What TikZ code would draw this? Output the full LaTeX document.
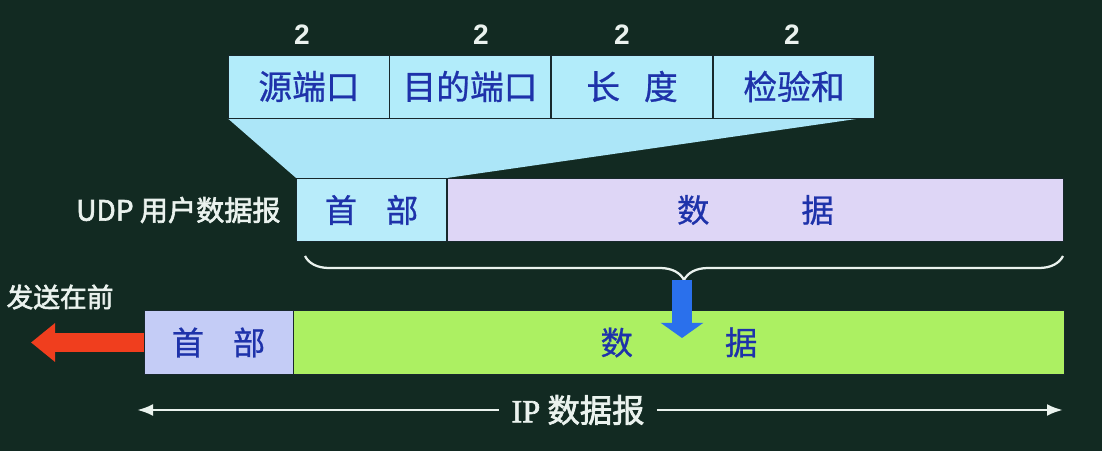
\documentclass[tikz,border=0pt]{standalone}
\usepackage{fontspec}
\newfontfamily\cjk{Noto Sans CJK SC}[FakeBold=0.8]
\newfontfamily\cjkbold{Noto Sans CJK SC}[FakeBold=2.2]
\newfontfamily\numfont{Liberation Sans}
\newfontfamily\ipfont{Liberation Serif}[FakeBold=2]
\definecolor{bgdark}{RGB}{18,42,34}
\definecolor{fieldcyan}{RGB}{178,236,250}
\definecolor{trapcyan}{RGB}{172,230,248}
\definecolor{hdrcyan}{RGB}{184,236,250}
\definecolor{datalilac}{RGB}{222,214,246}
\definecolor{hdrlilac}{RGB}{196,204,246}
\definecolor{datagreen}{RGB}{172,240,98}
\definecolor{textblue}{RGB}{30,50,170}
\definecolor{cellline}{RGB}{24,40,44}
\definecolor{sendred}{RGB}{240,62,30}
\definecolor{downblue}{RGB}{42,112,236}
\definecolor{lighttext}{RGB}{234,242,238}
\usetikzlibrary{arrows.meta,positioning,decorations.pathreplacing}
\pgfdeclarelayer{back}
\pgfsetlayers{back,main}

\begin{document}
\begin{tikzpicture}[x=0.025cm, y=-0.025cm,
    every node/.style={align=center, inner sep=0pt},
    cell/.style={draw=cellline, line width=0.6pt, text=textblue,
                 minimum height=1.58cm, font=\cjk\fontsize{23}{26}\selectfont},
    numlbl/.style={text=lighttext, font=\numfont\bfseries\fontsize{20}{24}\selectfont},
    sidelbl/.style={text=lighttext, font=\cjkbold\fontsize{20}{24}\selectfont}]
  \def\fw{4.04cm}
  \foreach \i/\x/\nx/\lbl in {
    1/309/302/源端口,
    2/470/481/目的端口,
    3/632/622/长\hspace{0.6cm}度,
    4/794/792/检验和}
  {
    \node[cell, fill=fieldcyan, minimum width=\fw, minimum height=1.575cm,
          font=\cjk\fontsize{24}{28}\selectfont] (f\i) at (\x,86.5) {\lbl};
    \node[numlbl] (n\i) at (\nx,35) {2};
  }
  \node[cell, fill=hdrcyan, minimum width=3.75cm] (uh) at (371.5,210) {首\hspace{0.72cm}部};
  \node[cell, fill=datalilac, minimum width=15.4cm, anchor=west] (ud) at (uh.east) {数\hspace{2.3cm}据};
  \node[sidelbl, left=0.38cm of uh] (ulbl) {UDP 用户数据报};
  \node[cell, fill=hdrlilac, minimum width=3.725cm] (ih) at (218.5,342.5) {首\hspace{0.72cm}部};
  \node[cell, fill=datagreen, minimum width=19.25cm, anchor=west] (id) at (ih.east) {数\hspace{2.3cm}据};
  \node[sidelbl, font=\cjkbold\fontsize{19}{22}\selectfont] (send) at (60,297) {发送在前};
  \node[sidelbl, inner xsep=0.3cm, font=\cjkbold\fontsize{23}{26}\selectfont] (ipl) at (578,410) {{\ipfont IP} 数据报};
  \coordinate (bl) at (305,256);
  \coordinate (br) at (1063,256);
  \coordinate (btip) at (682,280);
  \coordinate (bend) at (682,338);
  \coordinate (sendtip) at (31,342.5);
  \coordinate (ipL) at (137,410);
  \coordinate (ipR) at (1063,410);
  \begin{pgfonlayer}{back}
    \fill[bgdark] (0,0) rectangle (1102,451);
    \fill[trapcyan] (f1.south west) -- ([xshift=-0.38cm]f4.south east)
      -- (uh.north east) -- (uh.north west) -- cycle;
  \end{pgfonlayer}
  \useasboundingbox (0,0) rectangle (1102,451);
  \draw[lighttext, line width=1.6pt, decorate,
        decoration={brace, mirror, amplitude=0.6cm}] (bl) -- (br);
  \draw[downblue, line width=0.52cm, -{Triangle[length=0.38cm, width=1.05cm]}] (btip) -- (bend);
  \draw[sendred, line width=0.48cm, -{Triangle[length=0.6cm, width=0.93cm]}] (ih.west) -- (sendtip);
  \draw[lighttext, line width=2pt, -{Latex[length=0.4cm, width=0.3cm]}] (ipl.west) -- (ipL);
  \draw[lighttext, line width=2pt, -{Latex[length=0.4cm, width=0.3cm]}] (ipl.east) -- (ipR);
\end{tikzpicture}
\end{document}
